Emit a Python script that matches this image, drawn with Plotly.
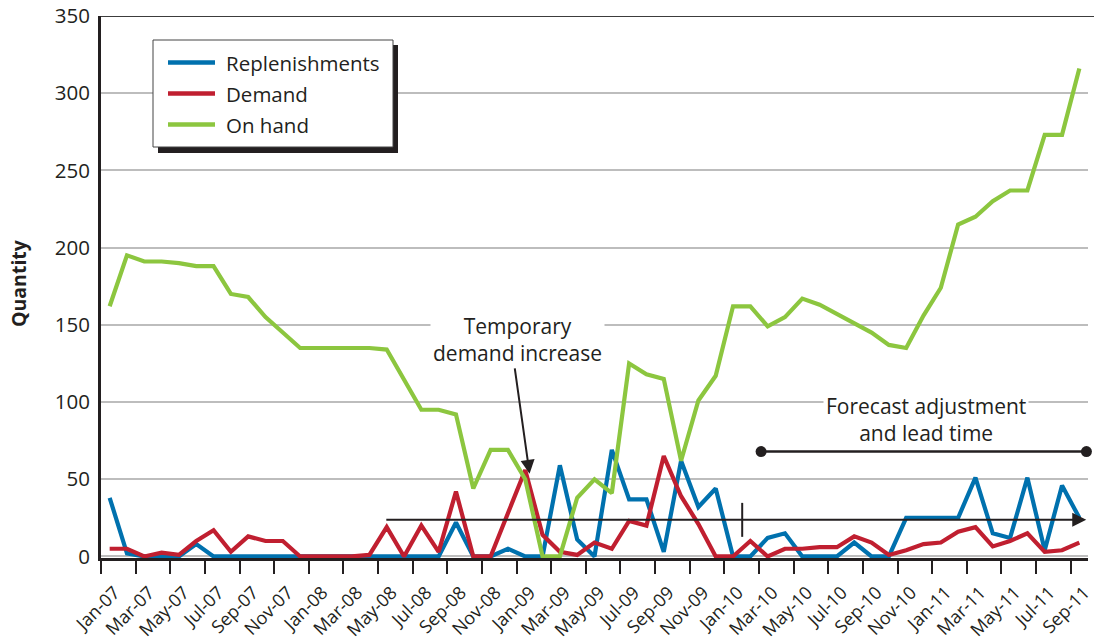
import plotly.graph_objects as go

# monthly category labels
months = [
    "Jan-07", "Feb-07", "Mar-07", "Apr-07", "May-07", "Jun-07", "Jul-07", "Aug-07", "Sep-07", "Oct-07", "Nov-07", "Dec-07",
    "Jan-08", "Feb-08", "Mar-08", "Apr-08", "May-08", "Jun-08", "Jul-08", "Aug-08", "Sep-08", "Oct-08", "Nov-08", "Dec-08",
    "Jan-09", "Feb-09", "Mar-09", "Apr-09", "May-09", "Jun-09", "Jul-09", "Aug-09", "Sep-09", "Oct-09", "Nov-09", "Dec-09",
    "Jan-10", "Feb-10", "Mar-10", "Apr-10", "May-10", "Jun-10", "Jul-10", "Aug-10", "Sep-10", "Oct-10", "Nov-10", "Dec-10",
    "Jan-11", "Feb-11", "Mar-11", "Apr-11", "May-11", "Jun-11", "Jul-11", "Aug-11", "Sep-11",
]

replenishments = [38, 2, 0, 0, 0, 8, 0, 0, 0, 0, 0, 0,
                  0, 0, 0, 0, 0, 0, 0, 0, 22, 0, 0, 5,
                  0, 0, 59, 11, 0, 69, 37, 37, 3, 62, 32, 44,
                  0, 0, 12, 15, 0, 0, 0, 9, 0, 0, 25, 25,
                  25, 25, 51, 15, 12, 51, 4, 46, 25]

demand = [5, 5, 0, 2.5, 1, 10, 17, 3, 13, 10, 10, 0,
          0, 0, 0, 1, 19, 0, 20, 3, 42, 0, 0, 28,
          56, 14, 3, 1, 9, 5, 23, 20, 65, 39, 21, 0,
          0, 10, 0, 5, 5, 6, 6, 13, 9, 1, 4, 8,
          9, 16, 19, 6.5, 10, 15, 3, 4, 9]

on_hand = [162, 195, 191, 191, 190, 188, 188, 170, 168, 155, 145, 135,
           135, 135, 135, 135, 134, 114, 95, 95, 92, 44, 69, 69,
           50, 0, 0, 38, 50, 41, 125, 118, 115, 62, 101, 117,
           162, 162, 149, 155, 167, 163, 157, 151, 145, 137, 135, 156,
           174, 215, 220, 230, 237, 237, 273, 273, 316]

series_names = ["Replenishments", "Demand", "On hand"]
series_colors = ["#0071ae", "#c01f30", "#8cc63f"]

TXT = "#231f20"
FONT = "Open Sans"

x = list(range(len(months)))
fig = go.Figure()
for name, vals, col in zip(series_names, [replenishments, demand, on_hand], series_colors):
    fig.add_trace(go.Scatter(x=x, y=vals, mode="lines", name=name,
                             line=dict(color=col, width=4.2), showlegend=False))

# forecast adjustment / lead time bar with dot ends
fig.add_trace(go.Scatter(x=[37.62, 56.41], y=[67.9, 67.9], mode="lines+markers",
                         line=dict(color=TXT, width=2.5), marker=dict(size=11, color=TXT),
                         showlegend=False, cliponaxis=False, hoverinfo="skip"))

W, H = 1094, 641
L, R, T, B = 101, 6, 16, 83

def px(v):
    return (v - L) / (W - L - R)

def py(v):
    return (H - B - v) / (H - T - B)

shapes = [
    dict(type="line", xref="paper", yref="y", x0=0, x1=px(1094), y0=350, y1=350,
         line=dict(color="#3c3c3c", width=2)),
    dict(type="line", xref="x", yref="y", x0=36.53, x1=36.53, y0=12.7, y1=34.7,
         line=dict(color=TXT, width=2)),
    # legend shadow + box
    dict(type="rect", xref="paper", yref="paper", x0=px(158), x1=px(398), y0=py(153), y1=py(45),
         fillcolor=TXT, line=dict(width=0), layer="above"),
    dict(type="rect", xref="paper", yref="paper", x0=px(153), x1=px(393), y0=py(147), y1=py(40),
         fillcolor="white", line=dict(color="#444", width=1), layer="above"),
]
annotations = []
for i, (name, col) in enumerate(zip(series_names, series_colors)):
    yy = 62.5 + 31 * i
    shapes.append(dict(type="line", xref="paper", yref="paper", x0=px(168), x1=px(215),
                       y0=py(yy), y1=py(yy), line=dict(color=col, width=4.5), layer="above"))
    annotations.append(dict(xref="paper", yref="paper", x=px(224), y=py(yy), text=name,
                            showarrow=False, xanchor="left", yanchor="middle",
                            font=dict(family=FONT, size=20.5, color=TXT)))

annotations += [
    dict(x=23.53, y=140.5, text="Temporary<br>demand increase", showarrow=False,
         font=dict(family=FONT, size=21, color=TXT), bgcolor="white", borderpad=2),
    dict(x=24.25, y=53.5, ax=-15, ay=-107, text="", showarrow=True, arrowhead=2,
         arrowsize=1.4, arrowwidth=2, arrowcolor=TXT),
    dict(x=47.13, y=89, text="Forecast adjustment<br>and lead time", showarrow=False,
         font=dict(family=FONT, size=21, color=TXT), bgcolor="white", borderpad=2),
    dict(x=56.4, y=23.7, ax=15.89, ay=23.7, axref="x", ayref="y", text="", showarrow=True,
         arrowhead=2, arrowsize=1.4, arrowwidth=2, arrowcolor=TXT),
    # y axis title placed by hand
    dict(xref="paper", yref="paper", x=px(18), y=py(283), text="Quantity", textangle=-90,
         xanchor="center", yanchor="middle", showarrow=False,
         font=dict(family=FONT, size=19.5, color=TXT, weight="bold")),
]

fig.update_layout(
    width=W, height=H,
    margin=dict(l=L, r=R, t=T, b=B),
    paper_bgcolor="white", plot_bgcolor="white",
    font=dict(family=FONT, color=TXT),
    shapes=shapes, annotations=annotations,
    showlegend=False,
    xaxis=dict(range=[-0.5, len(months) - 0.5], tickmode="array",
               tickvals=x[::2], ticktext=months[::2], tickangle=-45,
               ticks="", showgrid=False, zeroline=False, automargin=False,
               showline=True, linecolor=TXT, linewidth=3,
               tickfont=dict(family=FONT, size=18, color=TXT),
               ticklabelstandoff=14, ticklabelshift=5, ticklabeloverflow="allow",
               minor=dict(tickmode="array", tickvals=[i - 0.5 for i in x[::2]],
                          ticks="outside", ticklen=13, tickwidth=1.5, tickcolor=TXT)),
    yaxis=dict(range=[-1, 350], tickmode="array", tickvals=list(range(0, 351, 50)),
               ticks="", showgrid=True, gridcolor="#bdbdbd", gridwidth=1.5,
               zeroline=False, showline=True, linecolor=TXT, linewidth=3, automargin=False,
               tickfont=dict(family=FONT, size=20.5, color=TXT),
               ticklabelstandoff=4),
)

fig.write_html("out.html", config={"displayModeBar": False},
               post_script="document.body.style.margin='0';")
